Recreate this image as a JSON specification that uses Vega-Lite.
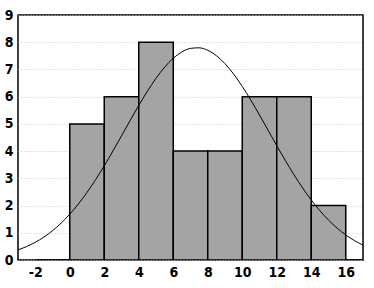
{
  "$schema": "https://vega.github.io/schema/vega-lite/v6.json",
  "width": 345,
  "height": 245,
  "autosize": "none",
  "padding": {"left": 18, "top": 15, "right": 11, "bottom": 28},
  "background": "white",
  "config": {
    "view": {"stroke": "black", "strokeWidth": 1.5},
    "axis": {
      "labelFont": "Liberation Sans Narrow, DejaVu Sans Condensed, sans-serif",
      "labelFontWeight": "bold",
      "labelFontSize": 14,
      "labelColor": "black",
      "domain": false,
      "tickColor": "black"
    }
  },
  "datasets": {
    "bins": [
      {"start": -2, "end": 0, "count": 0},
      {"start": 0, "end": 2, "count": 5},
      {"start": 2, "end": 4, "count": 6},
      {"start": 4, "end": 6, "count": 8},
      {"start": 6, "end": 8, "count": 4},
      {"start": 8, "end": 10, "count": 4},
      {"start": 10, "end": 12, "count": 6},
      {"start": 12, "end": 14, "count": 6},
      {"start": 14, "end": 16, "count": 2},
      {"start": 16, "end": 18, "count": 0}
    ],
    "curve": [
      {"x": -3, "y": 0.371}, {"x": -2.5, "y": 0.495}, {"x": -2, "y": 0.65}, {"x": -1.5, "y": 0.842},
      {"x": -1, "y": 1.076}, {"x": -0.5, "y": 1.354}, {"x": 0, "y": 1.681}, {"x": 0.5, "y": 2.058},
      {"x": 1, "y": 2.483}, {"x": 1.5, "y": 2.953}, {"x": 2, "y": 3.462}, {"x": 2.5, "y": 4.002},
      {"x": 3, "y": 4.561}, {"x": 3.5, "y": 5.125}, {"x": 4, "y": 5.677}, {"x": 4.5, "y": 6.199},
      {"x": 5, "y": 6.674}, {"x": 5.5, "y": 7.083}, {"x": 6, "y": 7.411}, {"x": 6.5, "y": 7.645},
      {"x": 7, "y": 7.774}, {"x": 7.5, "y": 7.794}, {"x": 8, "y": 7.704}, {"x": 8.5, "y": 7.507},
      {"x": 9, "y": 7.211}, {"x": 9.5, "y": 6.83}, {"x": 10, "y": 6.376}, {"x": 10.5, "y": 5.87},
      {"x": 11, "y": 5.326}, {"x": 11.5, "y": 4.765}, {"x": 12, "y": 4.202}, {"x": 12.5, "y": 3.653},
      {"x": 13, "y": 3.132}, {"x": 13.5, "y": 2.647}, {"x": 14, "y": 2.205}, {"x": 14.5, "y": 1.811},
      {"x": 15, "y": 1.467}, {"x": 15.5, "y": 1.171}, {"x": 16, "y": 0.921}, {"x": 16.5, "y": 0.715},
      {"x": 17, "y": 0.547}
    ]
  },
  "layer": [
    {
      "data": {"name": "bins"},
      "mark": {"type": "rect", "fill": "#a4a4a4", "stroke": "black", "strokeWidth": 1.5, "clip": true},
      "encoding": {
        "x": {
          "field": "start", "type": "quantitative",
          "scale": {"domain": [-3, 17], "nice": false, "zero": false},
          "axis": {"title": null, "values": [-2, 0, 2, 4, 6, 8, 10, 12, 14, 16], "labelExpr": "'' + datum.value", "labelOverlap": false, "labelFlush": false, "ticks": false, "labelPadding": 5, "grid": false}
        },
        "x2": {"field": "end"},
        "y": {
          "field": "count", "type": "quantitative",
          "scale": {"domain": [0, 9], "nice": false},
          "axis": {
            "title": null, "values": [0, 1, 2, 3, 4, 5, 6, 7, 8, 9], "labelOverlap": false, "labelFlush": false, "ticks": false, "labelPadding": 5,
            "grid": true, "gridColor": "#c8c8c8", "gridDash": [1, 2], "gridWidth": 1
          }
        },
        "y2": {"datum": 0}
      }
    },
    {
      "data": {"name": "curve"},
      "mark": {"type": "line", "color": "black", "strokeWidth": 1, "clip": true, "interpolate": "monotone"},
      "encoding": {
        "x": {
          "field": "x", "type": "quantitative",
          "scale": {"domain": [-3, 17], "nice": false, "zero": false},
          "axis": {"title": null, "values": [-2, 0, 2, 4, 6, 8, 10, 12, 14, 16], "labelExpr": "'' + datum.value", "labelOverlap": false, "labelFlush": false, "ticks": false, "labelPadding": 5, "grid": false}
        },
        "y": {
          "field": "y", "type": "quantitative",
          "scale": {"domain": [0, 9], "nice": false},
          "axis": {
            "title": null, "values": [0, 1, 2, 3, 4, 5, 6, 7, 8, 9], "labelOverlap": false, "labelFlush": false, "ticks": false, "labelPadding": 5,
            "grid": true, "gridColor": "#c8c8c8", "gridDash": [1, 2], "gridWidth": 1
          }
        }
      }
    }
  ]
}
